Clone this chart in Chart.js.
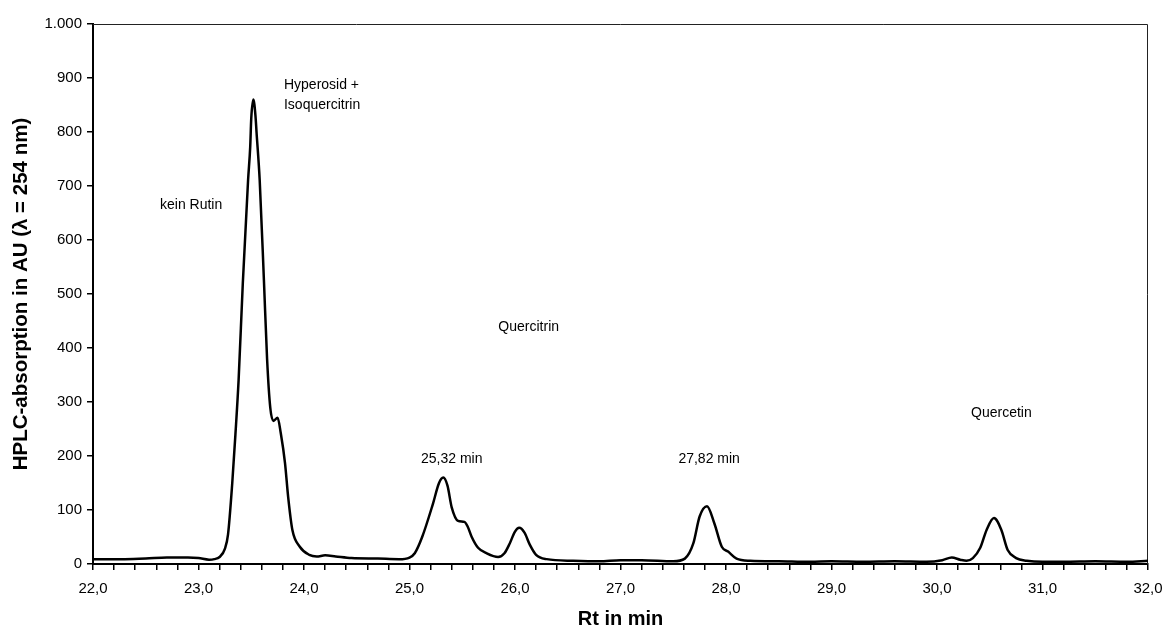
<!DOCTYPE html>
<html>
<head>
<meta charset="utf-8">
<script src="https://cdn.jsdelivr.net/npm/chart.js@4.4.1/dist/chart.umd.min.js"></script>
<style>
  html, body { margin: 0; padding: 0; background: #fff; }
  #wrap { width: 1164px; height: 628px; }
</style>
</head>
<body>
<div id="wrap"><canvas id="hplc"></canvas></div>
<script>
// retention time (min) and absorption (AU)
const rt = [22.0, 22.3, 22.5, 22.7, 22.9, 23.0, 23.1, 23.15, 23.2, 23.25, 23.28, 23.32, 23.35, 23.38, 23.42,
    23.47, 23.49, 23.50, 23.52, 23.54, 23.55, 23.58, 23.62, 23.65, 23.68, 23.71, 23.75, 23.78, 23.82, 23.85, 23.89, 23.96,
    24.05, 24.12, 24.2, 24.3, 24.45, 24.7, 24.9, 25.0, 25.05, 25.12, 25.22, 25.28, 25.32, 25.36, 25.40,
    25.46, 25.52, 25.55, 25.59, 25.65, 25.73, 25.84, 25.9, 25.95, 26.0, 26.04, 26.09, 26.14, 26.2, 26.3,
    26.55, 26.8, 27.0, 27.2, 27.5, 27.61, 27.69, 27.75, 27.82, 27.89, 27.96, 28.02, 28.1, 28.23, 28.5,
    28.8, 29.0, 29.3, 29.6, 29.9, 30.05, 30.14, 30.22, 30.28, 30.34, 30.41, 30.47, 30.54, 30.61, 30.67,
    30.75, 30.85, 31.0, 31.2, 31.5, 31.8, 32.0];
const au = [9, 9, 10, 12, 12, 11, 8, 9, 13, 28, 55, 150, 240, 340, 520,
    711, 772, 825, 860, 830, 800, 711, 526, 380, 290, 265, 271, 242, 187, 124, 63, 32,
    17, 14, 16, 14, 11, 10, 9, 12, 20, 50, 110, 150, 160, 145, 105,
    80, 78, 70, 50, 30, 20, 13, 20, 38, 60, 67, 58, 36, 17, 9,
    6, 5, 7, 7, 5, 10, 38, 88, 107, 75, 32, 23, 10, 6, 5,
    4, 5, 4, 5, 4, 7, 12, 8, 6, 11, 30, 63, 85, 63, 26,
    11, 6, 4, 4, 5, 4, 6];

// peak annotations
const noteText = ['kein Rutin', 'Hyperosid +', 'Isoquercitrin', 'Quercitrin', '25,32 min', '27,82 min', 'Quercetin'];
const noteRt = [22.93, 23.81, 23.81, 26.13, 25.40, 27.84, 30.61];
const noteAu = [665, 887, 850, 439, 194, 194, 280];
const noteAlign = ['center', 'left', 'left', 'center', 'center', 'center', 'center'];

const xMin = 22, xMax = 32, yMin = 0, yMax = 1000;

const points = rt.map((t, i) => ({ x: t, y: au[i] }));

const FONT = "'Liberation Sans', Arial, sans-serif";

const frame = {
    id: 'frame',
    beforeDatasetsDraw(chart) {
        const { ctx, chartArea: a } = chart;
        ctx.save();
        ctx.strokeStyle = '#222';
        ctx.lineWidth = 1;
        ctx.beginPath();
        ctx.moveTo(a.left, a.top + 0.5);
        ctx.lineTo(a.right - 0.5, a.top + 0.5);
        ctx.lineTo(a.right - 0.5, a.bottom);
        ctx.stroke();
        ctx.restore();
    }
};

const notes = {
    id: 'notes',
    afterDatasetsDraw(chart) {
        const { ctx, scales } = chart;
        ctx.save();
        ctx.fillStyle = '#000';
        ctx.font = '14px ' + FONT;
        ctx.textBaseline = 'middle';
        noteText.forEach((t, i) => {
            ctx.textAlign = noteAlign[i];
            ctx.fillText(t, scales.x.getPixelForValue(noteRt[i]), scales.y.getPixelForValue(noteAu[i]));
        });
        ctx.restore();
    }
};

new Chart(document.getElementById('hplc'), {
    type: 'line',
    data: {
        datasets: [{
            data: points,
            borderColor: '#000',
            borderWidth: 2.5,
            pointRadius: 0,
            fill: false,
            cubicInterpolationMode: 'monotone'
        }]
    },
    options: {
        responsive: true,
        maintainAspectRatio: false,
        animation: false,
        events: [],
        layout: { padding: { top: 24, right: 16, left: 0, bottom: 0 } },
        plugins: {
            legend: { display: false },
            tooltip: { enabled: false }
        },
        scales: {
            x: {
                type: 'linear',
                min: xMin,
                max: xMax,
                afterFit: (s) => { s.height = 64; s.paddingLeft = 0; s.paddingRight = 0; },
                border: { display: true, color: '#000', width: 2 },
                grid: { drawOnChartArea: false, drawTicks: true, tickLength: 6, color: '#000', lineWidth: 1.5 },
                ticks: {
                    stepSize: 0.2,
                    autoSkip: false,
                    maxRotation: 0,
                    padding: 10,
                    color: '#000',
                    font: { family: FONT, size: 15 },
                    callback: (v) => Math.abs(v - Math.round(v)) < 1e-6 ? Number(v).toFixed(1).replace('.', ',') : ''
                },
                title: {
                    display: true,
                    text: 'Rt in min',
                    color: '#000',
                    font: { family: FONT, size: 20, weight: 'bold' },
                    padding: { top: 0, bottom: -3 }
                }
            },
            y: {
                min: yMin,
                max: yMax,
                afterFit: (s) => { s.width = 93; },
                border: { display: true, color: '#000', width: 2 },
                grid: { drawOnChartArea: false, drawTicks: true, tickLength: 6, color: '#000', lineWidth: 1.5 },
                ticks: {
                    stepSize: 100,
                    padding: 5,
                    color: '#000',
                    font: { family: FONT, size: 15 },
                    callback: (v) => v >= 1000 ? String(v).replace(/(\d)(\d{3})$/, '$1.$2') : String(v)
                },
                title: {
                    display: true,
                    text: 'HPLC-absorption in AU (λ = 254 nm)',
                    color: '#000',
                    font: { family: FONT, size: 20.5, weight: 'bold' },
                    padding: { top: 9, bottom: 0 }
                }
            }
        }
    },
    plugins: [frame, notes]
});
</script>
</body>
</html>
